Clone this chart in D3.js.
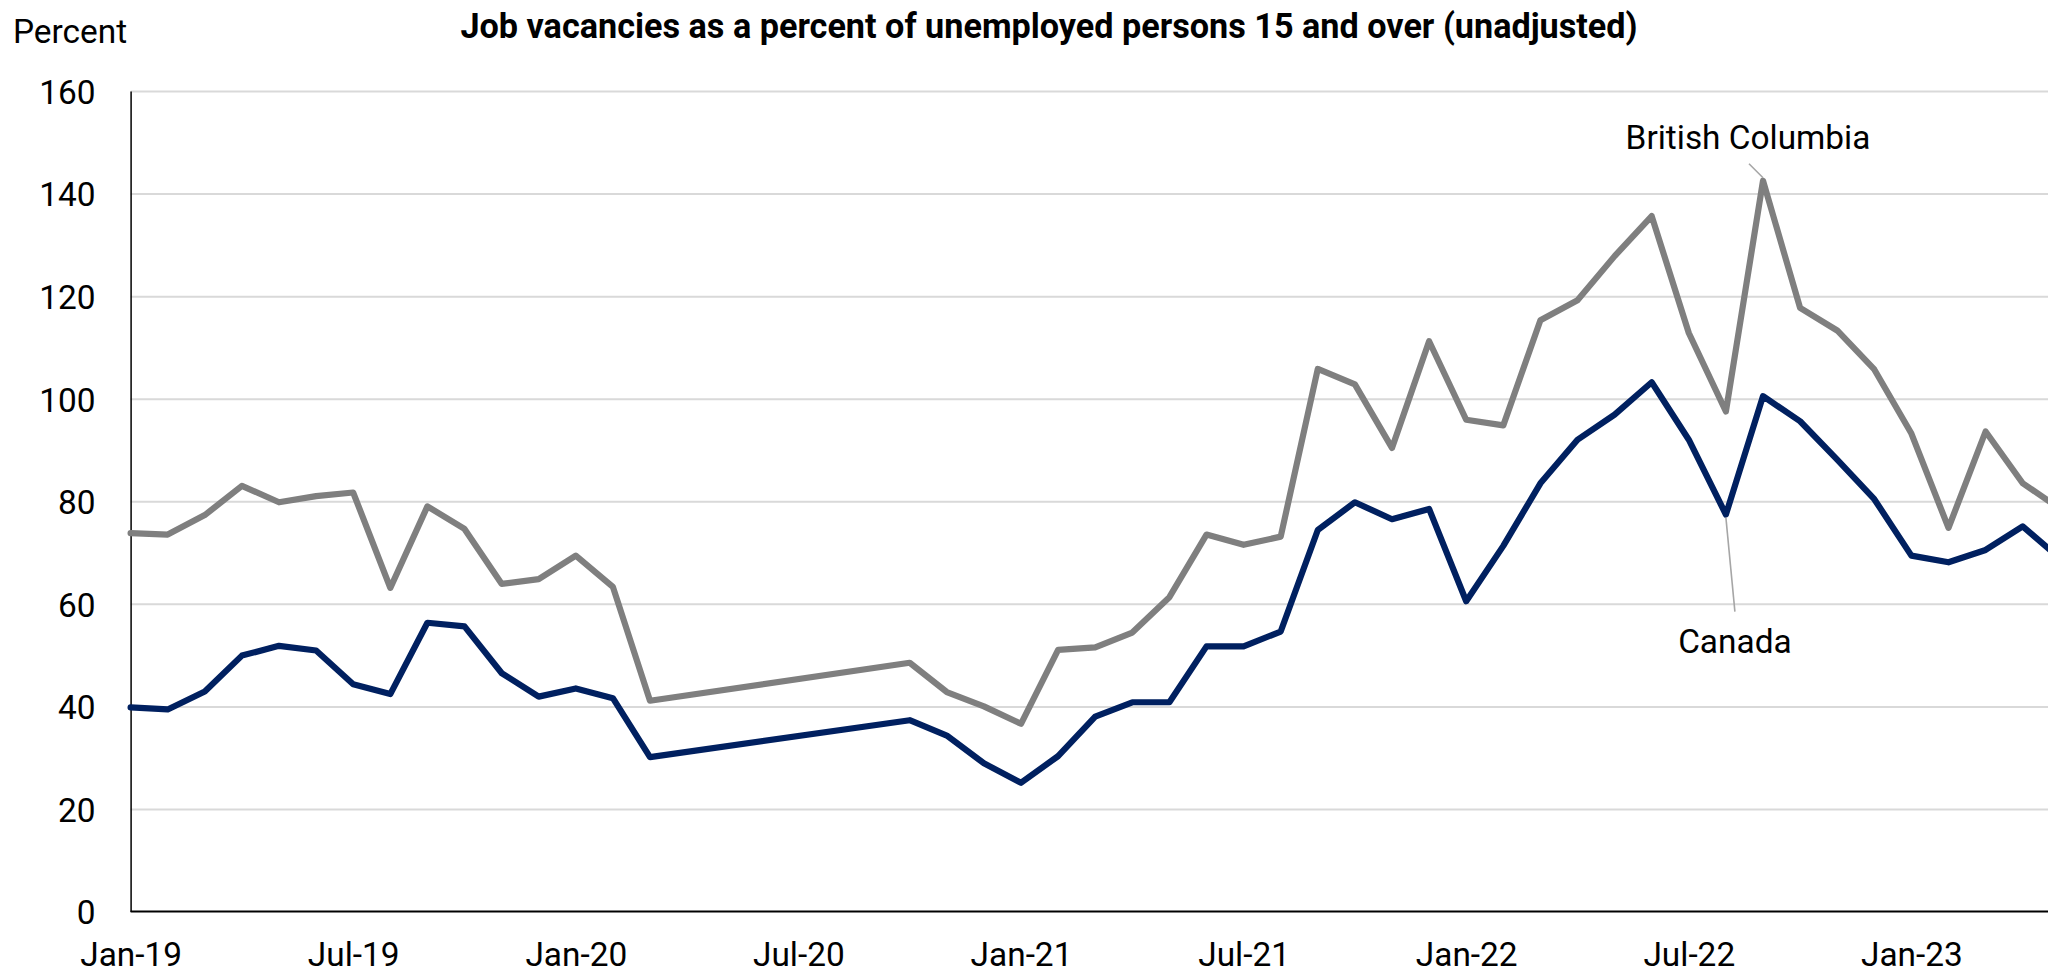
<!DOCTYPE html>
<html>
<head>
<meta charset="utf-8">
<script src="https://cdn.jsdelivr.net/npm/d3@7"></script>
<style>
  html, body { margin: 0; padding: 0; background: #fff; overflow: hidden; }
  svg { display: block; font-family: Roboto, "Noto Sans", sans-serif; }
</style>
</head>
<body>
<svg id="chart" width="2048" height="976"></svg>
<script>
// Months with published figures (no survey from April to September 2020)
const months = [
  "2019-01","2019-02","2019-03","2019-04","2019-05","2019-06","2019-07","2019-08","2019-09","2019-10","2019-11","2019-12",
  "2020-01","2020-02","2020-03","2020-10","2020-11","2020-12",
  "2021-01","2021-02","2021-03","2021-04","2021-05","2021-06","2021-07","2021-08","2021-09","2021-10","2021-11","2021-12",
  "2022-01","2022-02","2022-03","2022-04","2022-05","2022-06","2022-07","2022-08","2022-09","2022-10","2022-11","2022-12",
  "2023-01","2023-02","2023-03","2023-04","2023-05"
];

// Job vacancies as a percent of unemployed persons, Canada
const canada = [
  39.8, 39.4, 42.9, 49.9, 51.8, 50.9, 44.3, 42.4, 56.3, 55.6, 46.5, 41.9,
  43.5, 41.6, 30.1, 37.3, 34.3, 28.9,
  25.1, 30.3, 38.0, 40.8, 40.8, 51.7, 51.7, 54.6, 74.4, 79.8, 76.5, 78.5,
  60.5, 71.3, 83.5, 92.0, 96.9, 103.2, 92.0, 77.4, 100.5, 95.6, 88.1, 80.4,
  69.4, 68.1, 70.5, 75.1, 68.9
];

// Job vacancies as a percent of unemployed persons, British Columbia
const britishColumbia = [
  73.8, 73.5, 77.3, 83.0, 79.8, 81.0, 81.7, 63.1, 79.0, 74.6, 63.9, 64.8,
  69.4, 63.3, 41.1, 48.5, 42.8, 40.0,
  36.6, 51.0, 51.5, 54.4, 61.3, 73.5, 71.5, 73.1, 105.8, 102.8, 90.4, 111.2,
  95.9, 94.8, 115.3, 119.2, 127.8, 135.6, 112.8, 97.5, 142.5, 117.7, 113.3, 105.7,
  93.2, 74.8, 93.6, 83.5, 78.6
];

const tickMonths = ["2019-01","2019-07","2020-01","2020-07","2021-01","2021-07","2022-01","2022-07","2023-01"];
const tickLabels = ["Jan-19","Jul-19","Jan-20","Jul-20","Jan-21","Jul-21","Jan-22","Jul-22","Jan-23"];
const yTicks = [0, 20, 40, 60, 80, 100, 120, 140, 160];

const W = 2048, H = 976;
const FONT = 33.4;
const svg = d3.select("#chart");

// months counted from January 2019
const monthIndex = s => {
  const [yr, mo] = s.split("-").map(Number);
  return (yr - 2019) * 12 + (mo - 1);
};

const x = d3.scaleLinear().domain([0, 48]).range([130.6, 1911.4]);
const y = d3.scaleLinear().domain([0, 160]).range([911.5, 91]);
const x0 = x(0);

// horizontal gridlines
svg.append("g")
  .attr("transform", `translate(${x0},0)`)
  .call(d3.axisLeft(y).tickValues(yTicks.filter(v => v > 0)).tickSize(-(W - x0)).tickFormat(""))
  .call(g => g.select(".domain").remove())
  .call(g => g.selectAll(".tick line").attr("stroke", "#d9d9d9").attr("stroke-width", 2));

// y axis with labels
const yAxis = svg.append("g")
  .attr("transform", `translate(${x0},0)`)
  .call(d3.axisLeft(y).tickValues(yTicks).tickSize(0).tickPadding(35));
yAxis.select(".domain").attr("stroke", "#000").attr("stroke-width", 1.5);
yAxis.selectAll(".tick text")
  .attr("font-family", "Roboto").attr("font-size", FONT).attr("fill", "#000").attr("dy", "0.37em");

// x axis labels
const xAxis = svg.append("g")
  .attr("transform", `translate(0,${y(0)})`)
  .call(d3.axisBottom(x)
    .tickValues(tickMonths.map(monthIndex))
    .tickFormat((d, i) => tickLabels[i])
    .tickSize(0).tickPadding(30.5));
xAxis.select(".domain").remove();
xAxis.selectAll(".tick text")
  .attr("font-family", "Roboto").attr("font-size", FONT).attr("fill", "#000");

// x axis baseline runs to the edge of the frame
svg.append("line")
  .attr("x1", x0).attr("x2", W)
  .attr("y1", y(0)).attr("y2", y(0))
  .attr("stroke", "#000").attr("stroke-width", 2.2);

// series
const series = [
  { name: "British Columbia", values: britishColumbia, color: "#7f7f7f" },
  { name: "Canada", values: canada, color: "#002060" }
];
const line = d3.line().x(d => x(d.i)).y(d => y(d.v));

series.forEach(s => {
  const pts = months.map((m, k) => ({ i: monthIndex(m), v: s.values[k] }));
  svg.append("path")
    .datum(pts)
    .attr("d", line)
    .attr("fill", "none")
    .attr("stroke", s.color)
    .attr("stroke-width", 6.2)
    .attr("stroke-linejoin", "round")
    .attr("stroke-linecap", "round");
});

// series labels with leader lines
function labelAt(month, values, name, leader, text) {
  const k = months.indexOf(month);
  const px = x(monthIndex(month)), py = y(values[k]);
  svg.append("line")
    .attr("x1", px + leader[0]).attr("y1", py + leader[1])
    .attr("x2", px + leader[2]).attr("y2", py + leader[3])
    .attr("stroke", "#a6a6a6").attr("stroke-width", 1.6);
  svg.append("text")
    .attr("x", px + text[0]).attr("y", py + text[1])
    .attr("text-anchor", "middle")
    .attr("font-size", FONT).attr("fill", "#000")
    .text(name);
}
labelAt("2022-09", britishColumbia, "British Columbia", [0, -3, -14, -17], [-15, -32]);
labelAt("2022-08", canada, "Canada", [0, 3, 9, 97], [9, 138]);

// axis title and chart title
svg.append("text")
  .attr("x", 13).attr("y", 43)
  .attr("font-size", FONT).attr("fill", "#000")
  .text("Percent");

svg.append("text")
  .attr("x", 1049).attr("y", 38.3)
  .attr("text-anchor", "middle")
  .attr("font-size", 34.2).attr("font-weight", "bold").attr("fill", "#000")
  .text("Job vacancies as a percent of unemployed persons 15 and over (unadjusted)");
</script>
</body>
</html>
